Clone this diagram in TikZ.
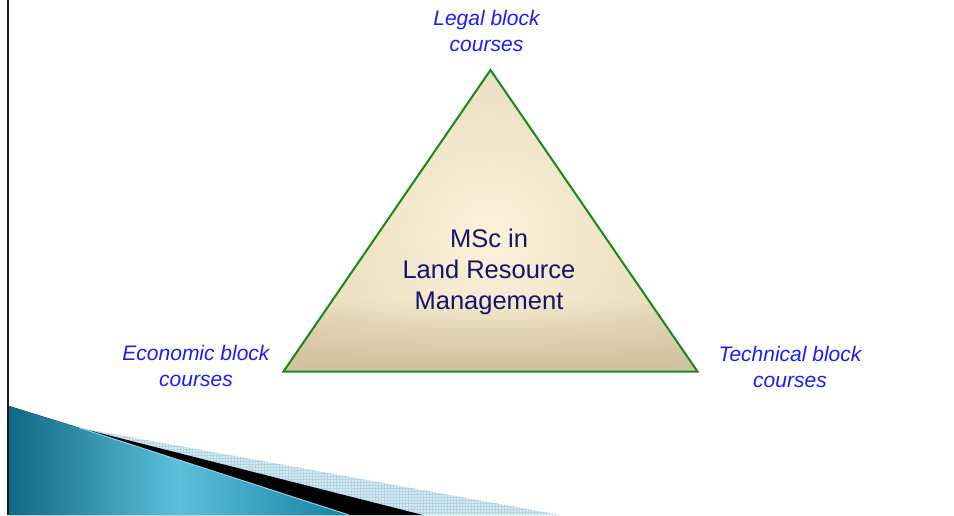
\documentclass[tikz,border=0pt]{standalone}
\usepackage{fontspec}
\setmainfont{Liberation Sans}
\usetikzlibrary{fadings,patterns}
\definecolor{lblblue}{RGB}{28,28,250}
\definecolor{navytxt}{RGB}{20,20,110}
\definecolor{trigreen}{RGB}{22,138,22}
\definecolor{beigeout}{RGB}{212,198,164}
\definecolor{beigein}{RGB}{253,241,217}
\definecolor{beigebot}{RGB}{206,192,156}
\definecolor{tealdark}{RGB}{16,104,134}
\definecolor{teallight}{RGB}{92,192,220}
\definecolor{tealmid}{RGB}{24,128,162}
\definecolor{hatchblue}{RGB}{214,233,241}
\definecolor{hatchline}{RGB}{178,213,228}
\definecolor{edgecyan}{RGB}{140,210,230}
\begin{document}
\begin{tikzpicture}[x=1pt,y=-1pt,
  lbl/.style={font=\fontsize{21}{26}\selectfont\itshape, text=lblblue, align=center, inner sep=0pt, anchor=north},
  ttl/.style={font=\fontsize{25.5}{31}\selectfont, text=navytxt, align=center, inner sep=0pt, anchor=north},
  triedge/.style={draw=trigreen, line width=2pt, line join=miter}]
\useasboundingbox (0,0) rectangle (954,515);
% decorative swoosh, bottom left
\coordinate (s0) at (9,406);
\coordinate (s1) at (80,428);
\coordinate (hatchend) at (560,515);
\coordinate (blackend) at (423,515);
\coordinate (blueend) at (349,515);
\coordinate (corner) at (9,515);
\fill[hatchblue] (s0) -- (s1) -- (hatchend) -- (corner) -- cycle;
\fill[pattern=grid, pattern color=hatchline] (s0) -- (s1) -- (hatchend) -- (corner) -- cycle;
\fill[black] (s0) -- (s1) -- (blackend) -- (corner) -- cycle;
\shade[left color=tealdark, right color=tealmid, middle color=teallight] (s0) -- (s1) -- (blueend) -- (corner) -- cycle;
\draw[edgecyan, line width=1pt] (s1) -- (blueend);
% left rule
\coordinate (rtop) at (8,0);
\coordinate (rbot) at (8,515);
\draw[black!90, line width=2pt] (rtop) -- (rbot);
% triangle
\coordinate (A) at (490.5,70);
\coordinate (B) at (283.5,371.5);
\coordinate (C) at (697.5,371.5);
\begin{scope}
\clip (A) -- (B) -- (C) -- cycle;
\fill[beigeout] (270,60) rectangle (710,380);
\shade[inner color=beigein, outer color=beigeout] (490,235) circle (380);
\fill[beigebot, path fading=north] (270,300) rectangle (710,373);
\end{scope}
\draw[triedge] (A) -- (B) -- (C) -- cycle;
% texts
\node[ttl] (title) at (489,228.5) {MSc in\\Land Resource\\Management};
\node[lbl] (legal) at (486.5,10) {Legal block\\courses};
\node[lbl] (econ) at (196,345.5) {Economic block\\courses};
\node[lbl] (tech) at (790,345.8) {Technical block\\courses};
\end{tikzpicture}
\end{document}
